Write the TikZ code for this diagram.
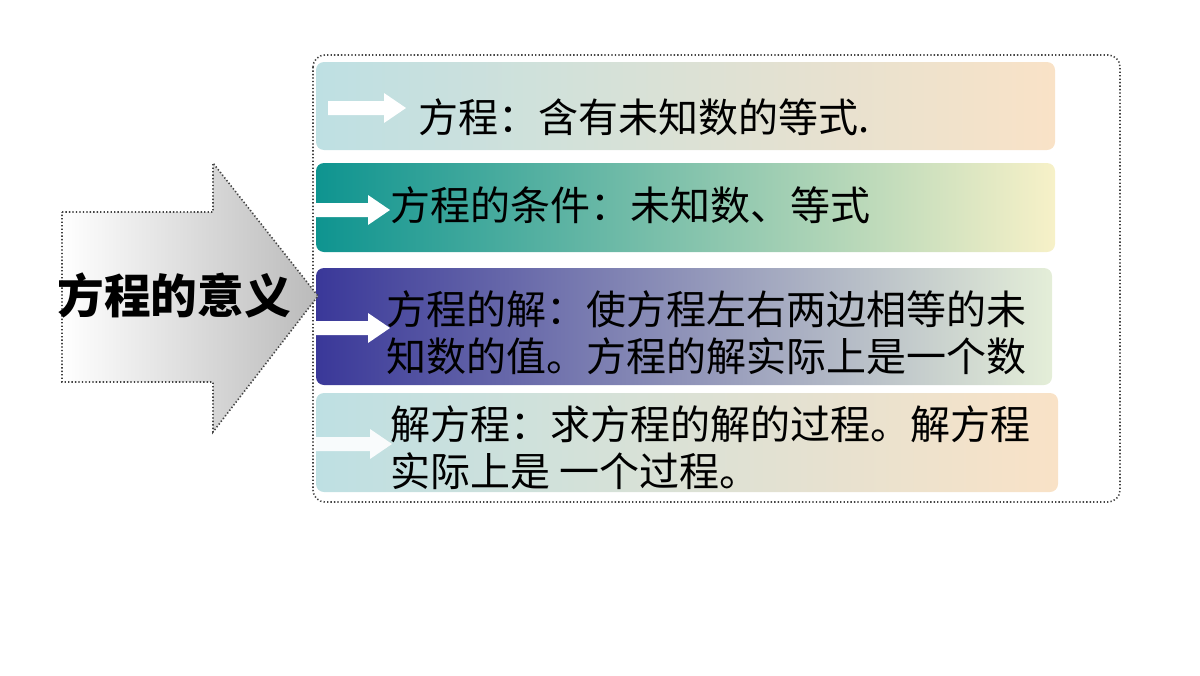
\documentclass[tikz,border=0pt]{standalone}
\usepackage{fontspec}
\newfontfamily\cjk{Noto Sans CJK SC}
\definecolor{cyanlight}{HTML}{BEE0E3}
\definecolor{peach}{HTML}{F9E2C7}
\definecolor{tealdark}{HTML}{0E9490}
\definecolor{tealmid}{HTML}{A2BFA8}
\definecolor{paleyellow}{HTML}{F7F1C8}
\definecolor{bluedark}{HTML}{3A3899}
\definecolor{bluemid}{HTML}{A9ADB7}
\definecolor{palegreen}{HTML}{E4EED8}
\definecolor{dotgray}{HTML}{444444}
\tikzset{
  bar/.style={rounded corners=6pt},
  dotline/.style={draw=dotgray, dash pattern=on 1pt off 1.6pt, line width=1.2pt},
  itemtext/.style={font=\cjk\fontsize{30}{35}\selectfont, anchor=west, inner sep=0pt, align=left},
}

\begin{document}
\begin{tikzpicture}[x=0.75pt,y=-0.75pt]

            \useasboundingbox (0,0) rectangle (1200,675);

            % frame round the four bars
            \draw[dotline, rounded corners=9pt] (313,55) rectangle (1120,502);

            % the four bars
            \path[bar, left color=cyanlight, right color=peach] (316,62) rectangle (1055,150);
            \path[bar, left color=tealdark, middle color=tealmid, right color=paleyellow] (316,163) rectangle (1055,252);
            \path[bar, left color=bluedark, middle color=bluemid, right color=palegreen] (316,268) rectangle (1052,385);
            \path[bar, left color=cyanlight, right color=peach] (316,393) rectangle (1058,492);

            % big arrow on the left
            \path[dotline, left color=white, right color=black!27]
                    (62,212) -- (213,212) -- (213,163) -- (318,296)
                    -- (213,432) -- (213,382) -- (62,382) -- cycle;

            % white arrows
            \fill[white] (328,101) -- (384,101) -- (384,93) -- (406,108) -- (384,123) -- (384,115) -- (328,115) -- cycle;
            \fill[white] (316,203) -- (368,203) -- (368,195) -- (390,210) -- (368,225) -- (368,217) -- (316,217) -- cycle;
            \fill[white] (316,321) -- (368,321) -- (368,313) -- (390,328) -- (368,343) -- (368,335) -- (316,335) -- cycle;
            \fill[white, opacity=0.9] (316,437) -- (370,437) -- (370,429) -- (392,444) -- (370,459) -- (370,451) -- (316,451) -- cycle;

            \path   (174,295) node (title) [font=\cjk\bfseries\fontsize{35}{40}\selectfont] {方程的意义}
                    (418,117) node (def) [itemtext] {方程：含有未知数的等式.}
                    (390,205) node (cond) [itemtext] {方程的条件：未知数、等式}
                    (386,333) node (sol) [itemtext] {方程的解：使方程左右两边相等的未\\知数的值。方程的解实际上是一个数}
                    (390,448) node (solve) [itemtext] {解方程：求方程的解的过程。解方程\\实际上是 一个过程。};

        \end{tikzpicture}
\end{document}
